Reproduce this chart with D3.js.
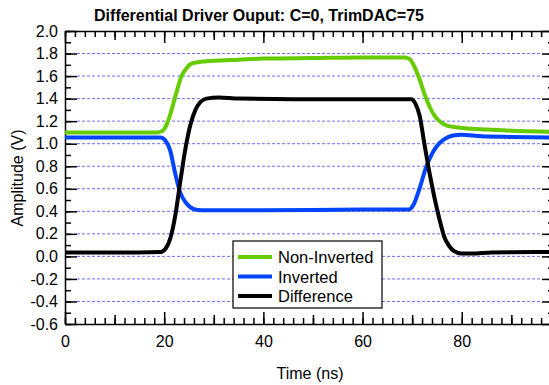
<!DOCTYPE html>
<html>
<head>
<meta charset="utf-8">
<script src="https://cdn.jsdelivr.net/npm/d3@7.9.0/dist/d3.min.js"></script>
<style>
  body { margin: 0; background: #fff; }
  svg { display: block; font-family: "Liberation Sans", Arial, sans-serif; }
  .axis text { fill: #000; }
  .axis line, .axis path { stroke: #000; stroke-width: 1.5; }
</style>
</head>
<body>
<svg id="chart" width="549" height="385"></svg>
<script>
// data: [time ns, volts]
const nonInverted = [
  [0, 1.10], [10, 1.10], [18.5, 1.10], [19.5, 1.11], [20.5, 1.17], [21.5, 1.30],
  [22.5, 1.46], [23.5, 1.60], [24.5, 1.67], [25.5, 1.71], [27, 1.725], [30, 1.735],
  [35, 1.745], [40, 1.755], [50, 1.76], [60, 1.765], [68.5, 1.765], [69.5, 1.75],
  [70.5, 1.68], [71.5, 1.57], [72.5, 1.44], [73.5, 1.33], [74.5, 1.25], [75.5, 1.20],
  [77, 1.16], [80, 1.14], [85, 1.125], [90, 1.115], [98.6, 1.105]
];
const inverted = [
  [0, 1.055], [19.3, 1.055], [20.2, 1.03], [21.2, 0.94], [22.2, 0.74], [23.2, 0.57],
  [24.5, 0.47], [26, 0.42], [27.5, 0.41], [40, 0.41], [60, 0.415], [69.3, 0.415],
  [70.3, 0.46], [71.4, 0.59], [72.8, 0.79], [74, 0.91], [75, 0.98], [76.5, 1.04],
  [78, 1.07], [80, 1.08], [84, 1.065], [90, 1.06], [98.6, 1.055]
];
const difference = [
  [0, 0.035], [10, 0.035], [19.3, 0.04], [20.3, 0.07], [21.3, 0.17], [22.3, 0.38],
  [23.3, 0.68], [24.3, 0.96], [25.3, 1.17], [26.3, 1.30], [27.3, 1.37], [28.5, 1.40],
  [31, 1.41], [35, 1.40], [50, 1.395], [69.8, 1.395], [70.6, 1.36], [71.5, 1.25],
  [72.5, 0.99], [73.5, 0.74], [74.5, 0.52], [75.5, 0.33], [76.5, 0.17], [77.5, 0.09],
  [78.5, 0.045], [80, 0.025], [82, 0.025], [86, 0.035], [98.6, 0.04]
];

const seriesNames = ['Non-Inverted', 'Inverted', 'Difference'];
const seriesColors = ['#66cc00', '#0044ff', '#000000'];
const xTicks = [0, 20, 40, 60, 80];
const yTicks = d3.range(-0.6, 2.01, 0.2).map(v => +v.toFixed(1));

const allSeries = [nonInverted, inverted, difference];

const svg = d3.select('#chart');
const mLeft = 65, mRight = 554, mTop = 31, mBottom = 324;

const x = d3.scaleLinear().domain([0, 98.6]).range([mLeft, mRight]);
const y = d3.scaleLinear().domain([-0.6, 2.0]).range([mBottom, mTop]);

// dotted grid
svg.append('g')
  .selectAll('line')
  .data(yTicks.filter(v => v > -0.6 && v < 2.0))
  .join('line')
  .attr('x1', mLeft + 12).attr('x2', mRight - 12)
  .attr('y1', d => y(d)).attr('y2', d => y(d))
  .attr('stroke', '#6e6eff')
  .attr('stroke-width', 1)
  .attr('stroke-dasharray', '3,2');

const minorX = d3.range(0, 98.6, 2);
const midX = d3.range(10, 98.6, 20);
const minorY = d3.range(-0.6, 2.01, 0.1).map(v => +v.toFixed(1));

// plain hyphen for negatives, like the original
const yFmt = v => v.toFixed(1);

function addAxis(gen, transform, values, size, fmt, pad) {
  const g = svg.append('g')
    .attr('class', 'axis')
    .attr('transform', transform)
    .call(gen.tickValues(values).tickSizeInner(size).tickSizeOuter(0)
      .tickPadding(pad || 7).tickFormat(fmt || ''));
  return g;
}

// bottom
addAxis(d3.axisBottom(x), `translate(0,${mBottom})`, minorX, -6).select('.domain').remove();
addAxis(d3.axisBottom(x), `translate(0,${mBottom})`, midX, -9).select('.domain').remove();
addAxis(d3.axisBottom(x), `translate(0,${mBottom})`, xTicks, -12, d3.format('d'), 12);
// top
addAxis(d3.axisTop(x), `translate(0,${mTop})`, minorX, -6).select('.domain').remove();
addAxis(d3.axisTop(x), `translate(0,${mTop})`, midX, -9).select('.domain').remove();
addAxis(d3.axisTop(x), `translate(0,${mTop})`, xTicks, -12);
// left
addAxis(d3.axisLeft(y), `translate(${mLeft},0)`, minorY, -6).select('.domain').remove();
addAxis(d3.axisLeft(y), `translate(${mLeft},0)`, yTicks, -12, yFmt);
// right
addAxis(d3.axisRight(y), `translate(${mRight},0)`, minorY, -6).select('.domain').remove();
addAxis(d3.axisRight(y), `translate(${mRight},0)`, yTicks, -12);

svg.selectAll('.axis text').attr('font-size', 16);

// traces
const line = d3.line()
  .x(d => x(d[0]))
  .y(d => y(d[1]))
  .curve(d3.curveMonotoneX);

allSeries.forEach((data, i) => {
  svg.append('path')
    .datum(data)
    .attr('fill', 'none')
    .attr('stroke', seriesColors[i])
    .attr('stroke-width', 4)
    .attr('stroke-linejoin', 'round')
    .attr('d', line);
});

// legend
const legend = svg.append('g').attr('transform', 'translate(233,241)');
legend.append('rect')
  .attr('width', 149).attr('height', 67)
  .attr('fill', '#fff').attr('stroke', '#000').attr('stroke-width', 1.2);
seriesNames.forEach((name, i) => {
  const yy = 16 + i * 19.5;
  legend.append('line')
    .attr('x1', 5).attr('x2', 39).attr('y1', yy).attr('y2', yy)
    .attr('stroke', seriesColors[i]).attr('stroke-width', 4);
  legend.append('text')
    .attr('x', 45).attr('y', yy + 6)
    .attr('font-size', 16.5)
    .text(name);
});

// titles
svg.append('text')
  .attr('x', 259).attr('y', 21)
  .attr('text-anchor', 'middle')
  .attr('font-size', 16).attr('font-weight', 'bold')
  .text('Differential Driver Ouput: C=0, TrimDAC=75');

svg.append('text')
  .attr('x', 310).attr('y', 379)
  .attr('text-anchor', 'middle')
  .attr('font-size', 16)
  .text('Time (ns)');

svg.append('text')
  .attr('transform', 'translate(23,178) rotate(-90)')
  .attr('text-anchor', 'middle')
  .attr('font-size', 16)
  .text('Amplitude (V)');
</script>
</body>
</html>
